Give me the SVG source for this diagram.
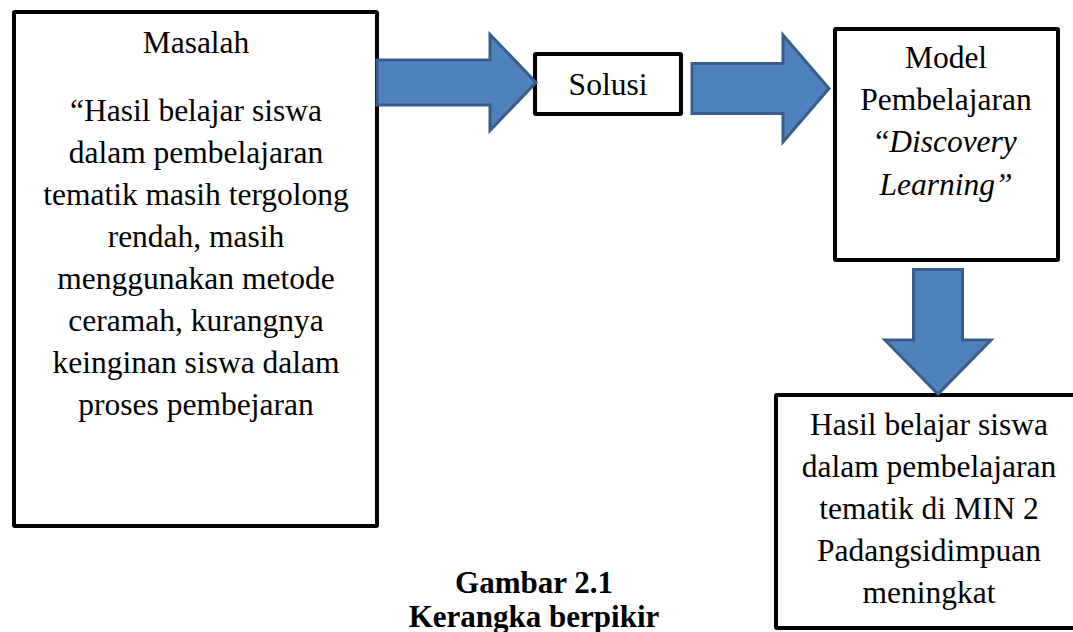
<svg xmlns="http://www.w3.org/2000/svg" width="1073" height="632" viewBox="0 0 1073 632">
<style>
.box{fill:#fff;stroke:#000;stroke-width:4}
.arr{fill:#4F81BD;stroke:#385D8A;stroke-width:3;stroke-linejoin:miter}
.t{font-family:"Liberation Serif","Times New Roman",serif;font-size:31.5px;fill:#000;text-anchor:middle}
.cap{font-family:"Liberation Serif","Times New Roman",serif;font-size:31px;font-weight:bold;fill:#000;text-anchor:middle}
</style>
<rect width="1073" height="632" fill="#fff"/>
<g id="masalah">
<rect class="box" x="14" y="12" width="363" height="514" rx="1"/>
<text class="t" x="196" y="53">Masalah</text>
<text class="t" x="196" y="121">“Hasil belajar siswa</text>
<text class="t" x="196" y="163">dalam pembelajaran</text>
<text class="t" x="196" y="205">tematik masih tergolong</text>
<text class="t" x="196" y="247">rendah, masih</text>
<text class="t" x="196" y="289">menggunakan metode</text>
<text class="t" x="196" y="331">ceramah, kurangnya</text>
<text class="t" x="196" y="373">keinginan siswa dalam</text>
<text class="t" x="196" y="415">proses pembejaran</text>
</g>
<g id="solusi">
<rect class="box" x="535" y="54" width="146" height="60" rx="1"/>
<text class="t" x="608" y="95">Solusi</text>
</g>
<g id="model">
<rect class="box" x="835" y="29" width="223" height="231" rx="1"/>
<text class="t" x="946" y="68">Model</text>
<text class="t" x="946" y="110">Pembelajaran</text>
<text class="t" x="946" y="152">“<tspan font-style="italic">Discovery</tspan></text>
<text class="t" x="946" y="195" font-style="italic">Learning”</text>
</g>
<g id="hasil">
<rect class="box" x="776" y="395" width="320" height="233" rx="1"/>
<text class="t" x="929" y="435">Hasil belajar siswa</text>
<text class="t" x="929" y="477">dalam pembelajaran</text>
<text class="t" x="929" y="519">tematik di MIN 2</text>
<text class="t" x="929" y="561">Padangsidimpuan</text>
<text class="t" x="929" y="603">meningkat</text>
</g>
<g id="connectors">
<path class="arr" d="M377,60 L490,60 L490,34.5 L536,82.5 L490,130.5 L490,105 L377,105 Z"/>
<path class="arr" d="M692,63.5 L783,63.5 L783,35 L829,88.5 L783,142 L783,113.5 L692,113.5 Z"/>
<path class="arr" d="M913.5,269.5 L962.5,269.5 L962.5,340 L991,340 L938,394 L885,340 L913.5,340 Z"/>
</g>
<g id="caption">
<text class="cap" x="534" y="593">Gambar 2.1</text>
<text class="cap" x="534" y="627">Kerangka berpikir</text>
</g>
</svg>
